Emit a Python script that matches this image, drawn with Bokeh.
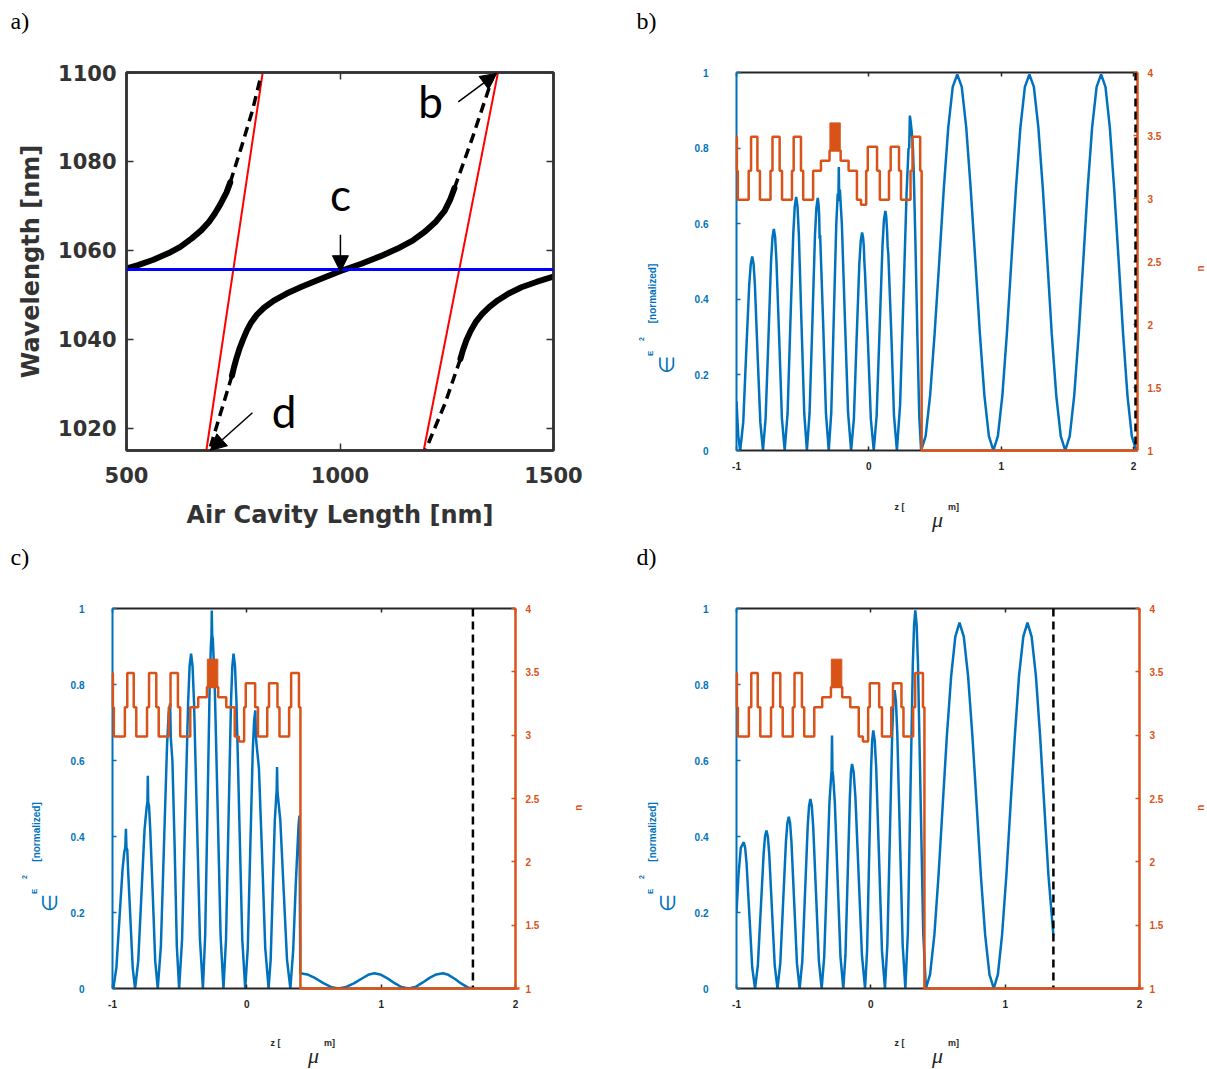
import math
from bokeh.plotting import figure
from bokeh.models import (Range1d, LinearAxis, Label, Arrow, NormalHead, FixedTicker,
                          Span, CustomJSTickFormatter)
from bokeh.layouts import row, column
from bokeh.core.properties import value
from bokeh.embed import file_html
from bokeh.resources import INLINE

BLUE = "#0072BD"
ORANGE = "#D95319"
DARK = "#262626"
GREY = "#333333"

# ---------------- panel a) data ----------------
a_xticks = [500, 1000, 1500]
a_yticks = [1020, 1040, 1060, 1080, 1100]
a_resonance = 1055.7

a_branch1_x = [500, 527, 563, 599, 626, 653, 675, 693, 707, 720, 734, 743]
a_branch1_y = [1055.95, 1056.7, 1057.9, 1059.4, 1060.8, 1062.7, 1064.5, 1066.4, 1068.3, 1070.4, 1073.0, 1075.3]
a_branch2_x = [747, 752, 758, 765, 773, 782, 792, 805, 822, 845, 875, 910, 950, 1000, 1050,
               1095, 1135, 1170, 1200, 1225, 1245, 1258, 1268]
a_branch2_y = [1031.8, 1033.8, 1035.9, 1038.0, 1040.0, 1042.0, 1043.8, 1045.5, 1047.1, 1048.7,
               1050.3, 1051.8, 1053.4, 1055.3, 1057.0, 1058.7, 1060.4, 1062.2, 1064.3, 1066.5,
               1068.9, 1071.4, 1074.0]
a_branch3_x = [1282, 1288, 1296, 1306, 1318, 1333, 1350, 1370, 1395, 1425, 1460, 1500]
a_branch3_y = [1035.6, 1037.6, 1039.8, 1041.9, 1043.9, 1045.7, 1047.3, 1048.8, 1050.3, 1051.7, 1052.9, 1054.1]

a_dash_xs = [[743, 770, 795, 813], [1268, 1309, 1356], [747, 720, 696], [1282, 1246, 1201]]
a_dash_ys = [[1075.3, 1083.5, 1091.5, 1098.5], [1074.0, 1085.0, 1098.5],
             [1031.8, 1023.3, 1015.6], [1035.6, 1025.6, 1015.2]]

a_red_xs = [[687, 819], [1196, 1370]]
a_red_ys = [[1015, 1100], [1015, 1100]]

a_note_text = ["b", "c", "d"]
a_note_x = [1212, 1001, 869]
a_note_y = [1093.7, 1072.6, 1023.8]
a_arrow_x0 = [1277, 1001, 795]
a_arrow_y0 = [1093.4, 1063.5, 1023.5]
a_arrow_x1 = [1367, 1001, 696]
a_arrow_y1 = [1099.8, 1055.2, 1015.0]

# ---------------- panels b) c) d) data ----------------
z_ticks = [-1, 0, 1, 2]
e_ticks = [0, 0.2, 0.4, 0.6, 0.8, 1]
n_ticks = [1, 1.5, 2, 2.5, 3, 3.5, 4]

# refractive index profile (layer start positions and index values)
n_z = [-1.0, -0.997, -0.990, -0.908, -0.890, -0.842, -0.823, -0.743, -0.728, -0.674,
       -0.656, -0.581, -0.568, -0.513, -0.496, -0.421, -0.362, -0.297, -0.213, -0.153,
       -0.090, -0.059, -0.020, -0.008, 0.062, 0.083, 0.152, 0.165, 0.228, 0.243,
       0.315, 0.330, 0.388, 0.399, 2.03]
n_val = [3.49, 3.22, 2.99, 3.22, 3.49, 3.22, 2.99, 3.22, 3.49, 3.22,
         2.99, 3.22, 3.49, 3.22, 2.99, 3.22, 3.30, 3.38, 3.30, 3.22,
         2.99, 2.95, 3.22, 3.41, 3.22, 2.99, 3.22, 3.41, 3.22, 2.99,
         3.22, 3.49, 3.22, 1.0, 1.0]
# quantum-well active region
qw_left = [-0.294]
qw_right = [-0.216]
qw_bottom = [3.38]
qw_top = [3.60]

# b) field
zb = [-1.0, -0.986, -0.972,
      -0.949, -0.927, -0.904, -0.892, -0.881, -0.871,
      -0.861, -0.841, -0.820, -0.800,
      -0.780, -0.759, -0.739, -0.728, -0.718, -0.708,
      -0.698, -0.677, -0.657, -0.636,
      -0.614, -0.593, -0.571, -0.560, -0.549, -0.539,
      -0.529, -0.509, -0.488, -0.468,
      -0.448, -0.427, -0.407, -0.396, -0.386, -0.380,
      -0.375, -0.372, -0.368, -0.345, -0.324, -0.303,
      -0.284, -0.265, -0.246, -0.235, -0.230, -0.227, -0.224, -0.219,
      -0.204, -0.181, -0.157, -0.134,
      -0.113, -0.093, -0.072, -0.061, -0.051, -0.044,
      -0.038, -0.034, -0.029, -0.007, 0.015, 0.037,
      0.059, 0.081, 0.103, 0.114, 0.125, 0.131,
      0.138, 0.142, 0.147, 0.169, 0.190, 0.212,
      0.236, 0.261, 0.285, 0.300, 0.305, 0.310, 0.316, 0.325, 0.333, 0.339,
      0.352, 0.367, 0.381, 0.395,
      0.429, 0.463, 0.497, 0.532, 0.566, 0.600, 0.634, 0.668,
      0.702, 0.736, 0.770, 0.805, 0.839, 0.873, 0.907, 0.941,
      0.975, 1.009, 1.043, 1.077, 1.111, 1.145, 1.179, 1.213,
      1.247, 1.281, 1.315, 1.349, 1.382, 1.416, 1.450, 1.484,
      1.518, 1.552, 1.586, 1.620, 1.653, 1.687, 1.721, 1.755,
      1.788, 1.821, 1.854, 1.888, 1.921, 1.954, 1.987, 2.020, 2.030]
eb = [0.13, 0.035, 0.0,
      0.075, 0.257, 0.438, 0.494, 0.513, 0.494,
      0.438, 0.257, 0.075, 0.0,
      0.086, 0.293, 0.500, 0.564, 0.586, 0.564,
      0.500, 0.293, 0.086, 0.0,
      0.098, 0.336, 0.573, 0.645, 0.671, 0.645,
      0.573, 0.336, 0.098, 0.0,
      0.098, 0.334, 0.570, 0.643, 0.668, 0.652,
      0.62, 0.56, 0.57, 0.334, 0.098, 0.0,
      0.10, 0.35, 0.60, 0.68, 0.66, 0.75, 0.67, 0.69,
      0.60, 0.35, 0.10, 0.0,
      0.084, 0.289, 0.493, 0.555, 0.577, 0.565,
      0.54, 0.50, 0.47, 0.289, 0.084, 0.0,
      0.093, 0.317, 0.541, 0.61, 0.634, 0.62,
      0.58, 0.54, 0.52, 0.317, 0.093, 0.0,
      0.12, 0.40, 0.68, 0.80, 0.80, 0.886, 0.87, 0.84, 0.80, 0.74,
      0.55, 0.30, 0.09, 0.0,
      0.038, 0.146, 0.309, 0.5, 0.691, 0.854, 0.962, 0.995,
      0.962, 0.854, 0.691, 0.5, 0.309, 0.146, 0.038, 0.0,
      0.038, 0.146, 0.309, 0.5, 0.691, 0.854, 0.962, 0.995,
      0.962, 0.854, 0.691, 0.5, 0.309, 0.146, 0.038, 0.0,
      0.038, 0.146, 0.309, 0.5, 0.691, 0.854, 0.962, 0.995,
      0.962, 0.854, 0.691, 0.5, 0.309, 0.146, 0.038, 0.0, 0.01]
dash_b = 2.015

# c) field
zc = [-1.0, -0.994,
      -0.971, -0.948, -0.925, -0.912, -0.905, -0.900, -0.896, -0.890,
      -0.8845, -0.867, -0.8495, -0.832,
      -0.8085, -0.785, -0.7615, -0.745, -0.740, -0.737, -0.734, -0.728,
      -0.719, -0.700, -0.682, -0.663,
      -0.640, -0.617, -0.594, -0.5825, -0.571,
      -0.566, -0.562, -0.554, -0.5375, -0.521, -0.504,
      -0.482, -0.460, -0.437, -0.426, -0.415, -0.404,
      -0.393, -0.371, -0.349, -0.327,
      -0.310, -0.293, -0.277, -0.268, -0.263, -0.261, -0.258, -0.253,
      -0.2385, -0.217, -0.1955, -0.174,
      -0.155, -0.1365, -0.118, -0.108, -0.099, -0.088,
      -0.077, -0.0555, -0.034, -0.012,
      0.007, 0.0255, 0.044, 0.054, 0.063,
      0.068, 0.073, 0.090, 0.112, 0.137, 0.162,
      0.1775, 0.193, 0.2085, 0.218, 0.222, 0.225, 0.228, 0.233,
      0.249, 0.274, 0.299, 0.324,
      0.345, 0.365, 0.385, 0.392, 0.398,
      0.45, 0.51, 0.57, 0.625, 0.68, 0.74, 0.80, 0.86, 0.91, 0.95,
      1.00, 1.05, 1.10, 1.15, 1.205, 1.26, 1.31, 1.36, 1.41, 1.46,
      1.50, 1.55, 1.60, 1.645, 1.683]
ec = [0.01, 0.0,
      0.055, 0.185, 0.315, 0.36, 0.37, 0.42, 0.37, 0.365,
      0.316, 0.185, 0.054, 0.0,
      0.072, 0.245, 0.418, 0.48, 0.49, 0.56, 0.49, 0.48,
      0.418, 0.245, 0.072, 0.0,
      0.11, 0.375, 0.64, 0.72, 0.75,
      0.66, 0.64, 0.60, 0.375, 0.11, 0.0,
      0.129, 0.44, 0.752, 0.848, 0.881, 0.848,
      0.752, 0.44, 0.129, 0.0,
      0.14, 0.47, 0.79, 0.90, 0.93, 0.995, 0.93, 0.92,
      0.79, 0.47, 0.14, 0.0,
      0.129, 0.44, 0.752, 0.848, 0.881, 0.848,
      0.752, 0.44, 0.129, 0.0,
      0.107, 0.366, 0.625, 0.704, 0.732,
      0.66, 0.64, 0.58, 0.366, 0.107, 0.0,
      0.076, 0.26, 0.444, 0.50, 0.52, 0.583, 0.52, 0.50,
      0.444, 0.26, 0.076, 0.0,
      0.10, 0.28, 0.43, 0.455, 0.04,
      0.037, 0.027, 0.014, 0.004, 0.0, 0.004, 0.014, 0.027, 0.037, 0.040,
      0.036, 0.026, 0.014, 0.004, 0.0, 0.005, 0.016, 0.028, 0.037, 0.040,
      0.036, 0.025, 0.012, 0.003, 0.0]
dash_c = 1.683

# d) field
zd = [-1.0, -0.985, -0.968, -0.946, -0.9355,
      -0.925, -0.904, -0.883, -0.862,
      -0.841, -0.8195, -0.798, -0.7876, -0.777, -0.7668,
      -0.7565, -0.736, -0.7155, -0.695,
      -0.674, -0.653, -0.632, -0.6215, -0.611, -0.601,
      -0.591, -0.5705, -0.550, -0.530,
      -0.510, -0.490, -0.470, -0.460, -0.450, -0.4395,
      -0.429, -0.408, -0.387, -0.366,
      -0.347, -0.3275, -0.308, -0.297, -0.292, -0.289, -0.286, -0.281,
      -0.268, -0.247, -0.226, -0.205,
      -0.189, -0.1725, -0.156, -0.148, -0.140, -0.128,
      -0.115, -0.0905, -0.066, -0.043,
      -0.028, -0.013, 0.002, 0.010, 0.018, 0.029,
      0.040, 0.0615, 0.083, 0.105,
      0.123, 0.141, 0.159, 0.168, 0.177, 0.187,
      0.197, 0.217, 0.237, 0.257,
      0.2755, 0.294, 0.3125, 0.322, 0.331, 0.341,
      0.351, 0.3705, 0.390, 0.41,
      0.441, 0.473, 0.504, 0.535, 0.566, 0.598, 0.629, 0.66,
      0.692, 0.724, 0.756, 0.788, 0.819, 0.851, 0.883, 0.915,
      0.946, 0.977, 1.009, 1.040, 1.072, 1.103, 1.135, 1.166,
      1.197, 1.229, 1.260, 1.291, 1.322, 1.359]
ed = [0.20, 0.30, 0.37, 0.385, 0.370,
      0.329, 0.193, 0.056, 0.0,
      0.061, 0.208, 0.355, 0.40, 0.416, 0.40,
      0.355, 0.208, 0.061, 0.0,
      0.066, 0.226, 0.386, 0.435, 0.452, 0.435,
      0.386, 0.226, 0.066, 0.0,
      0.073, 0.25, 0.426, 0.48, 0.499, 0.48,
      0.426, 0.25, 0.073, 0.0,
      0.084, 0.287, 0.49, 0.55, 0.574, 0.666, 0.574, 0.56,
      0.49, 0.287, 0.084, 0.0,
      0.087, 0.296, 0.505, 0.569, 0.591, 0.569,
      0.505, 0.296, 0.087, 0.0,
      0.099, 0.34, 0.58, 0.653, 0.679, 0.653,
      0.58, 0.34, 0.099, 0.0,
      0.115, 0.393, 0.67, 0.755, 0.785, 0.755,
      0.67, 0.393, 0.115, 0.0,
      0.146, 0.5, 0.854, 0.957, 0.995, 0.957,
      0.854, 0.5, 0.146, 0.0,
      0.037, 0.141, 0.298, 0.482, 0.665, 0.822, 0.926, 0.963,
      0.926, 0.822, 0.665, 0.482, 0.298, 0.141, 0.037, 0.0,
      0.037, 0.141, 0.298, 0.482, 0.665, 0.822, 0.926, 0.963,
      0.926, 0.822, 0.665, 0.482, 0.298, 0.14]
dash_d = 1.359


def style_axis(ax, color, ticks, labels=True, size="10px", standoff=8, lw=2.0,
               font="Liberation Sans", tick_in=4):
    ax.ticker = FixedTicker(ticks=ticks)
    ax.axis_line_color = color
    ax.axis_line_width = lw
    ax.major_tick_line_color = color
    ax.major_tick_line_width = 1.5
    ax.major_tick_in = tick_in
    ax.major_tick_out = 0
    ax.minor_tick_line_color = None
    ax.major_label_text_font = font
    ax.major_label_text_font_style = "bold"
    ax.formatter = CustomJSTickFormatter(code="return tick.toString();")
    if labels:
        ax.major_label_text_color = color
        ax.major_label_text_font_size = size
        ax.major_label_standoff = standoff
    else:
        ax.major_label_text_color = None
        ax.major_label_text_font_size = "1px"
        ax.major_label_standoff = 0


def strip(w, h):
    s = figure(width=w, height=h, x_range=Range1d(0, w), y_range=Range1d(0, h),
               output_backend="svg", toolbar_location=None, title=None,
               x_axis_location=None, y_axis_location=None, min_border=0)
    s.grid.visible = False
    s.outline_line_color = None
    s.background_fill_color = "white"
    s.border_fill_color = "white"
    return s


def strip_text(s, ox, oy, h, px, py, texts, size, color, font="Liberation Sans",
               style="bold", angle=0.0, align="center", baseline="middle"):
    s.text(x=[p - ox for p in px], y=[h - (q - oy) for q in py], text=texts,
           text_font=value(font), text_font_size=size, text_color=color,
           text_font_style=style, angle=angle, text_align=align, text_baseline=baseline)


# ---------------- letter strips ----------------
top_strip = strip(1207, 40)
strip_text(top_strip, 0, 0, 40, [10, 636], [20, 20], ["a)", "b)"], "24px", "black",
           font="Liberation Serif", style="normal", align="left")
mid_strip = strip(1207, 36)
strip_text(mid_strip, 0, 540, 36, [10, 636], [556, 556], ["c)", "d)"], "24px", "black",
           font="Liberation Serif", style="normal", align="left")

# ---------------- panel a) ----------------
pa = figure(width=600, height=500, x_range=Range1d(500, 1500), y_range=Range1d(1015, 1100),
            output_backend="svg", toolbar_location=None, title=None,
            min_border_left=126, min_border_right=47, min_border_top=32, min_border_bottom=90)
pa.grid.visible = False
pa.background_fill_color = "white"
pa.border_fill_color = "white"
pa.outline_line_color = GREY
pa.outline_line_width = 2.5

style_axis(pa.xaxis[0], GREY, a_xticks, size="21px", standoff=16, lw=2.5, font="DejaVu Sans", tick_in=7)
style_axis(pa.yaxis[0], GREY, a_yticks, size="21px", standoff=10, lw=2.5, font="DejaVu Sans", tick_in=7)
for ax in (pa.xaxis[0], pa.yaxis[0]):
    ax.axis_label_text_font = "DejaVu Sans"
    ax.axis_label_text_font_style = "bold"
    ax.axis_label_text_font_size = "24px"
    ax.axis_label_text_color = GREY
pa.xaxis[0].axis_label = "Air Cavity Length [nm]"
pa.xaxis[0].axis_label_standoff = 15
pa.yaxis[0].axis_label = "Wavelength [nm]"
pa.yaxis[0].axis_label_standoff = 10
a_top = LinearAxis()
style_axis(a_top, GREY, a_xticks, labels=False, lw=2.5, tick_in=7)
pa.add_layout(a_top, "above")
a_right = LinearAxis()
style_axis(a_right, GREY, a_yticks, labels=False, lw=2.5, tick_in=7)
pa.add_layout(a_right, "right")

pa.add_layout(Span(location=a_resonance, dimension="width", line_color="#0000FF", line_width=3))
pa.multi_line(xs=a_red_xs, ys=a_red_ys, line_color="#FF0000", line_width=2)
pa.multi_line(xs=a_dash_xs, ys=a_dash_ys, line_color="black", line_width=3.5, line_dash="10 6")
for bx, by in ((a_branch1_x, a_branch1_y), (a_branch2_x, a_branch2_y), (a_branch3_x, a_branch3_y)):
    pa.line(bx, by, line_color="black", line_width=6, line_cap="round", line_join="round")
for i in range(len(a_note_text)):
    pa.add_layout(Arrow(end=NormalHead(size=16, fill_color="black", line_color="black"),
                        x_start=a_arrow_x0[i], y_start=a_arrow_y0[i],
                        x_end=a_arrow_x1[i], y_end=a_arrow_y1[i],
                        line_color="black", line_width=1.5))
    pa.add_layout(Label(x=a_note_x[i], y=a_note_y[i], text=a_note_text[i],
                        text_font="Lato", text_font_size="44px", text_color="black",
                        text_align="center", text_baseline="middle"))


# ---------------- panels b) c) d) ----------------
def field_fig(fw, fh, bl, br, bt, bb, xmax, z, e, dash_x):
    p = figure(width=fw, height=fh, x_range=Range1d(-1, xmax), y_range=Range1d(0, 1),
               output_backend="svg", toolbar_location=None, title=None,
               min_border_left=bl, min_border_right=br, min_border_top=bt, min_border_bottom=bb)
    p.extra_y_ranges = {"n": Range1d(n_ticks[0], n_ticks[-1])}
    p.grid.visible = False
    p.outline_line_color = None
    p.background_fill_color = "white"
    p.border_fill_color = "white"

    xa = p.xaxis[0]
    style_axis(xa, DARK, z_ticks, standoff=11)
    ya = p.yaxis[0]
    style_axis(ya, BLUE, e_ticks, standoff=28)
    top = LinearAxis()
    style_axis(top, DARK, z_ticks, labels=False)
    p.add_layout(top, "above")
    ra = LinearAxis(y_range_name="n")
    style_axis(ra, ORANGE, n_ticks, standoff=10, lw=2.5)
    p.add_layout(ra, "right")

    p.line(z, e, line_color=BLUE, line_width=2.5)
    p.step(n_z, n_val, mode="after", y_range_name="n", line_color=ORANGE, line_width=2.5,
           level="overlay")
    p.quad(left=qw_left, right=qw_right, bottom=qw_bottom, top=qw_top, y_range_name="n",
           fill_color=ORANGE, line_color=ORANGE, line_width=1)
    p.add_layout(Span(location=dash_x, dimension="height", line_color="black",
                      line_width=2.5, line_dash="8 5"))
    return p


# shifts applied to the rotated pieces so that they land where the reference shows them
rot_shift = [18, 20, 11, 23]


def left_strip(w, h, ox, oy, xs, ys):
    s = strip(w, h)
    yy = [ys[i] + rot_shift[i] for i in range(4)]
    strip_text(s, ox, oy, h, [xs[0]], [yy[0]], ["2"], "7px", BLUE, angle=math.pi / 2)
    strip_text(s, ox, oy, h, [xs[1]], [yy[1]], ["E"], "8px", BLUE, angle=math.pi / 2)
    strip_text(s, ox, oy, h, [xs[2]], [yy[2]], ["[normalized]"], "10px", BLUE, angle=math.pi / 2)
    strip_text(s, ox, oy, h, [xs[3]], [yy[3]], ["\u2208"], "21px", BLUE, font="DejaVu Sans",
               style="normal", angle=math.pi / 2)
    return s


def right_strip(w, h, ox, oy, px, py):
    s = strip(w, h)
    strip_text(s, ox, oy, h, [px], [py + 11], ["n"], "10px", ORANGE, angle=math.pi / 2)
    return s


def bottom_strip(w, h, ox, oy, xs, ys):
    s = strip(w, h)
    strip_text(s, ox, oy, h, xs[:2], ys[:2], ["z [", "m]"], "9px", DARK)
    strip_text(s, ox, oy, h, [xs[2]], [ys[2]], ["\u03bc"], "22px", DARK,
               font="Liberation Serif", style="italic")
    return s


# b) page region x 600..1207, y 40..540
pb = field_fig(497, 455, 46, 50, 32, 45, 2.03, zb, eb, dash_b)
lb = left_strip(90, 455, 600, 40, [641, 650, 652, 666], [343, 358, 295, 369])
rb = right_strip(20, 455, 1187, 40, 1200, 265)
bb_ = bottom_strip(607, 45, 600, 495, [899, 953, 937], [506, 506, 519])
panel_b = column(row(lb, pb, rb), bb_)

# c) page region x 0..600, y 576..1069
pc = field_fig(505, 454, 52, 50, 32, 42, 2.0, zc, ec, dash_c)
lc = left_strip(60, 454, 0, 576, [24, 34, 36, 49], [879, 894, 832, 905])
rc = right_strip(35, 454, 565, 576, 578, 803)
bc = bottom_strip(600, 39, 0, 1030, [275, 329, 313], [1042, 1042, 1055])
panel_c = column(row(lc, pc, rc), bc)

# d) page region x 600..1207, y 576..1069
pd = field_fig(497, 454, 46, 48, 32, 42, 2.0, zd, ed, dash_d)
ld = left_strip(90, 454, 600, 576, [641, 650, 652, 667], [879, 894, 832, 905])
rd = right_strip(20, 454, 1187, 576, 1200, 803)
bd = bottom_strip(607, 39, 600, 1030, [899, 953, 937], [1042, 1042, 1055])
panel_d = column(row(ld, pd, rd), bd)

layout = column(top_strip, row(pa, panel_b), mid_strip, row(panel_c, panel_d))
open("out.html", "w").write(file_html(layout, INLINE))
